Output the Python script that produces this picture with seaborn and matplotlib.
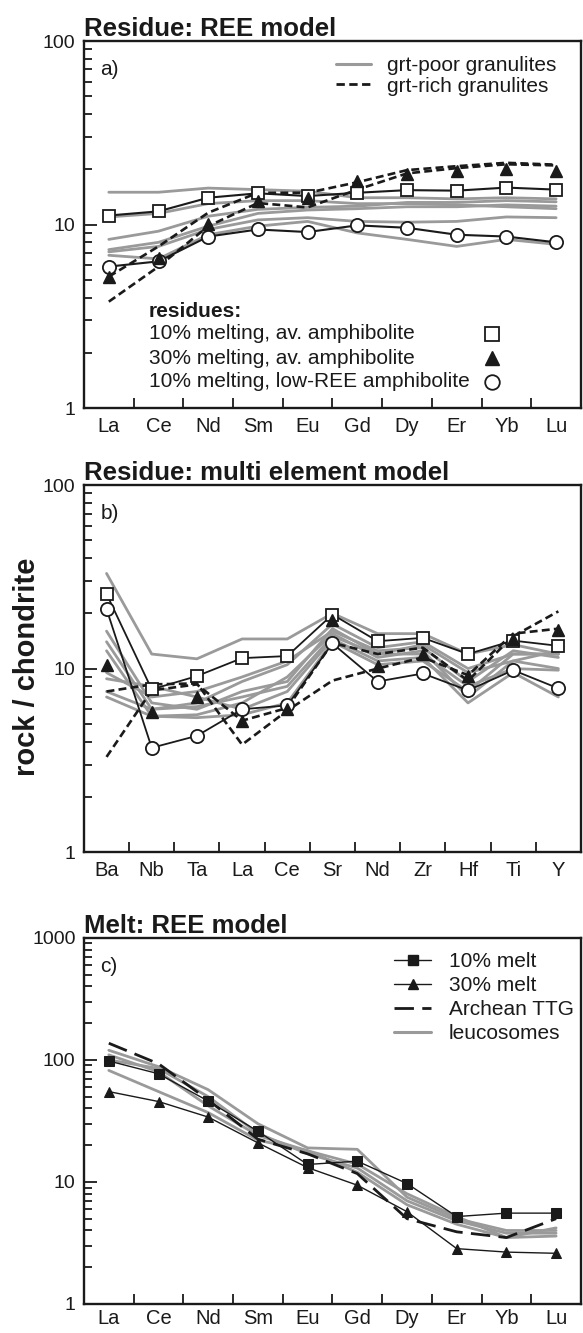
import numpy as np
import matplotlib
matplotlib.use("Agg")
import matplotlib.pyplot as plt
import seaborn as sns
from matplotlib.lines import Line2D
from matplotlib.ticker import LogLocator, NullFormatter, FuncFormatter

# ---------------- data ----------------
ree = ["La", "Ce", "Nd", "Sm", "Eu", "Gd", "Dy", "Er", "Yb", "Lu"]
multi = ["Ba", "Nb", "Ta", "La", "Ce", "Sr", "Nd", "Zr", "Hf", "Ti", "Y"]

# a) residue, REE model
a_res10_av = [11.2, 11.8, 14.0, 14.8, 14.3, 14.9, 15.4, 15.3, 15.9, 15.5]
a_res30_av = [5.2, 6.6, 10.1, 13.4, 14.0, 17.2, 18.8, 19.5, 20.2, 19.6]
a_res10_low = [5.9, 6.3, 8.6, 9.4, 9.1, 9.9, 9.6, 8.8, 8.6, 8.0]
a_grt_rich = [
    [5.2, 7.6, 11.6, 14.9, 14.9, 17.0, 19.8, 20.8, 21.7, 21.2],
    [3.8, 5.9, 9.8, 13.1, 12.4, 15.5, 19.0, 20.3, 21.3, 21.0],
]
a_grt_poor = [
    [15.0, 15.0, 15.8, 15.5, 15.2, 14.0, 14.0, 13.8, 14.0, 13.8],
    [8.3, 9.2, 11.1, 12.1, 12.4, 12.6, 13.2, 13.2, 13.5, 13.3],
    [7.3, 8.0, 9.8, 11.5, 12.0, 12.2, 12.5, 12.5, 12.8, 12.6],
    [7.1, 7.6, 9.4, 10.6, 10.9, 10.4, 10.3, 10.4, 11.0, 10.9],
    [6.8, 6.5, 8.8, 9.8, 10.4, 9.0, 8.3, 7.6, 8.3, 7.8],
    [11.0, 11.5, 13.0, 13.5, 13.5, 13.0, 13.0, 12.8, 12.5, 12.2],
]
a_residue_labels = ["10% melting, av. amphibolite",
                    "30% melting, av. amphibolite",
                    "10% melting, low-REE amphibolite"]

# b) residue, multi element model
b_res10_av = [25.5, 7.7, 9.1, 11.4, 11.7, 19.7, 14.1, 14.7, 12.0, 14.2, 13.3]
b_res30_av = [10.5, 5.8, 7.0, 5.2, 6.0, 18.5, 10.3, 12.0, 9.1, 14.5, 16.2]
b_res10_low = [21.1, 3.7, 4.3, 6.0, 6.3, 13.7, 8.5, 9.4, 7.6, 9.8, 7.8]
b_grt_rich = [
    [7.5, 8.2, 8.3, 3.85, 5.9, 8.6, 10.0, 11.5, 9.2, 15.5, 16.5],
    [3.3, 7.6, 8.2, 5.2, 6.1, 13.8, 12.0, 13.0, 8.6, 15.0, 20.5],
]
b_grt_poor = [
    [33.0, 12.0, 11.3, 14.5, 14.5, 20.0, 15.5, 15.5, 12.0, 13.5, 12.0],
    [16.0, 6.5, 6.0, 7.5, 8.5, 16.5, 12.0, 13.5, 9.5, 11.0, 12.5],
    [14.0, 6.0, 6.5, 8.5, 10.5, 17.5, 13.0, 14.0, 10.0, 12.0, 12.0],
    [12.5, 5.5, 5.6, 6.5, 9.0, 15.5, 11.5, 12.5, 7.0, 11.0, 10.0],
    [9.5, 7.0, 7.5, 9.0, 11.0, 16.0, 12.5, 13.0, 8.5, 12.5, 11.5],
    [8.8, 8.0, 7.0, 6.0, 7.5, 14.5, 11.0, 11.5, 6.5, 9.5, 7.0],
    [7.5, 6.0, 6.2, 7.0, 8.0, 15.0, 12.0, 12.0, 8.0, 10.0, 9.8],
    [7.0, 5.5, 5.4, 5.6, 6.5, 14.0, 10.5, 11.0, 7.5, 12.0, 12.0],
]

# c) melt, REE model
c_melt10 = [98, 77, 46, 26, 13.9, 14.8, 9.7, 5.2, 5.55, 5.55]
c_melt30 = [55, 45.6, 34, 20.9, 13.1, 9.4, 5.7, 2.84, 2.66, 2.6]
c_ttg = [137, 93, 47, 22.4, 17.0, 11.7, 5.0, 3.9, 3.5, 5.0]
c_leuco = [
    [120, 88, 57, 30, 19, 18.5, 7.5, 5.0, 4.0, 4.0],
    [100, 85, 50, 25, 17, 13, 7.0, 4.8, 3.8, 3.8],
    [82, 55, 37, 22, 18, 12, 6.5, 4.5, 3.5, 3.6],
    [110, 80, 42, 24, 18, 14, 8.0, 5.2, 3.5, 4.2],
]
c_legend_labels = ["10% melt", "30% melt", "Archean TTG", "leucosomes"]

# ---------------- style ----------------
sns.set_theme(style="ticks")
plt.rcParams["font.family"] = ["Liberation Sans", "DejaVu Sans"]
INK = "#1a1a1a"
GREY = "#9a9a9a"
plt.rcParams["text.color"] = INK
FS_TITLE = 18.5
FS_TEXT = 15
FS_TICK = 14.5

fig = plt.figure(figsize=(5.83, 13.33), dpi=100)
L, W = 0.144, 0.8525
axA = fig.add_axes([L, 0.6939, W, 0.2753])
axB = fig.add_axes([L, 0.3608, W, 0.2753])
axC = fig.add_axes([L, 0.0218, W, 0.2746])


def line(ax, values, **kw):
    x = np.arange(len(values))
    sns.lineplot(x=x, y=values, ax=ax, estimator=None, sort=False,
                 legend=False, **kw)


def frame(ax, labels, ylim, title, tag, xpad=6.5):
    n = len(labels)
    ax.set_yscale("log")
    ax.set_ylim(*ylim)
    ax.set_xlim(-0.5, n - 0.5)
    ax.set_xticks(np.arange(n))
    ax.set_xticklabels(labels)
    ax.set_xticks(np.arange(0.5, n - 1, 1.0), minor=True)
    ax.tick_params(axis="x", which="major", length=0, pad=xpad,
                   labelsize=FS_TICK, colors=INK)
    ax.tick_params(axis="x", which="minor", direction="in", length=7,
                   width=1.3, color=INK)
    ax.yaxis.set_major_locator(LogLocator(base=10, numticks=10))
    ax.yaxis.set_minor_locator(LogLocator(base=10, subs=np.arange(2, 10),
                                          numticks=10))
    ax.yaxis.set_minor_formatter(NullFormatter())
    ax.yaxis.set_major_formatter(FuncFormatter(lambda v, p: f"{v:g}"))
    ax.tick_params(axis="y", which="major", direction="in", length=9,
                   width=1.3, labelsize=14, pad=6, colors=INK)
    ax.tick_params(axis="y", which="minor", direction="in", length=6,
                   width=1.3, color=INK)
    for s in ax.spines.values():
        s.set_linewidth(1.7)
        s.set_color(INK)
    ax.set_xlabel("")
    ax.set_ylabel("")
    ax.set_title(title, loc="left", fontsize=FS_TITLE, fontweight="bold",
                 pad=3, color=INK)
    ax.text(0.033, 0.922, tag, transform=ax.transAxes, fontsize=FS_TEXT,
            va="center", ha="left", color=INK)


sq = dict(marker="s", markersize=8.5, markerfacecolor="white",
          markeredgecolor=INK, markeredgewidth=1.3)
tri = dict(marker="^", markersize=9, markerfacecolor=INK,
           markeredgecolor=INK, markeredgewidth=1.0)
circ = dict(marker="o", markersize=9.5, markerfacecolor="white",
            markeredgecolor=INK, markeredgewidth=1.3)
dash = (0, (3.0, 1.6))

# ---------------- a) ----------------
for v in a_grt_poor:
    line(axA, v, color=GREY, linewidth=2.0)
for v in a_grt_rich:
    line(axA, v, color=INK, linewidth=1.9, linestyle=dash)
line(axA, a_res10_av, color=INK, linewidth=1.5, **sq)
line(axA, a_res10_low, color=INK, linewidth=1.5, **circ)
for i, v in enumerate(a_res30_av):
    axA.plot([i], [v], linestyle="none", **tri)
frame(axA, ree, (1, 100), "Residue: REE model", "a)")

axA.legend(
    handles=[Line2D([], [], color=GREY, linewidth=2.2),
             Line2D([], [], color=INK, linewidth=2.0, linestyle=dash)],
    labels=["grt-poor granulites", "grt-rich granulites"],
    loc="upper right", bbox_to_anchor=(0.95, 0.958), frameon=False,
    borderpad=0, borderaxespad=0,
    fontsize=FS_TEXT, handlelength=1.7, handletextpad=0.75,
    labelspacing=0.05)

# key for the three residue series: text on the left, symbol on the right
key_x_text, key_x_mark = 0.131, 0.821
key_rows = [0.202, 0.136, 0.072]
axA.text(key_x_text, 0.262, "residues:", transform=axA.transAxes,
         fontsize=FS_TEXT, fontweight="bold", va="center", ha="left")
for lab, yk, mk in zip(a_residue_labels, key_rows, [sq, tri, circ]):
    axA.text(key_x_text, yk, lab, transform=axA.transAxes,
             fontsize=FS_TEXT, va="center", ha="left")
    style = dict(mk)
    style["markersize"] = 10.5
    axA.plot([key_x_mark], [yk], transform=axA.transAxes, linestyle="none",
             clip_on=False, **style)

# ---------------- b) ----------------
for v in b_grt_poor:
    line(axB, v, color=GREY, linewidth=2.0)
for v in b_grt_rich:
    line(axB, v, color=INK, linewidth=1.9, linestyle=dash)
line(axB, b_res10_av, color=INK, linewidth=1.3, **sq)
line(axB, b_res10_low, color=INK, linewidth=1.3, **circ)
for i, v in enumerate(b_res30_av):
    axB.plot([i], [v], linestyle="none", **tri)
frame(axB, multi, (1, 100), "Residue: multi element model", "b)")

# ---------------- c) ----------------
ttg_dash = (0, (7, 3))
sq_c = dict(marker="s", markersize=7, markerfacecolor=INK,
            markeredgecolor=INK)
tri_c = dict(marker="^", markersize=7, markerfacecolor=INK,
             markeredgecolor=INK)
for v in c_leuco:
    line(axC, v, color=GREY, linewidth=2.0)
line(axC, c_ttg, color=INK, linewidth=2.0, linestyle=ttg_dash)
line(axC, c_melt10, color=INK, linewidth=1.0, **sq_c)
line(axC, c_melt30, color=INK, linewidth=1.0, **tri_c)
frame(axC, ree, (1, 1000), "Melt: REE model", "c)", xpad=4)

axC.legend(
    handles=[Line2D([], [], color=INK, linewidth=1.0, **sq_c),
             Line2D([], [], color=INK, linewidth=1.0, **tri_c),
             Line2D([], [], color=INK, linewidth=2.0, linestyle=ttg_dash),
             Line2D([], [], color=GREY, linewidth=2.2)],
    labels=c_legend_labels,
    loc="upper right", bbox_to_anchor=(0.985, 0.962), frameon=False,
    borderpad=0, borderaxespad=0,
    fontsize=FS_TEXT, handlelength=1.75, handletextpad=0.85,
    labelspacing=0.24)

fig.text(0.046, 0.5, "rock / chondrite", rotation=90, fontsize=21,
         fontweight="bold", ha="center", va="center", color=INK)

fig.savefig("out.png", dpi=100)
